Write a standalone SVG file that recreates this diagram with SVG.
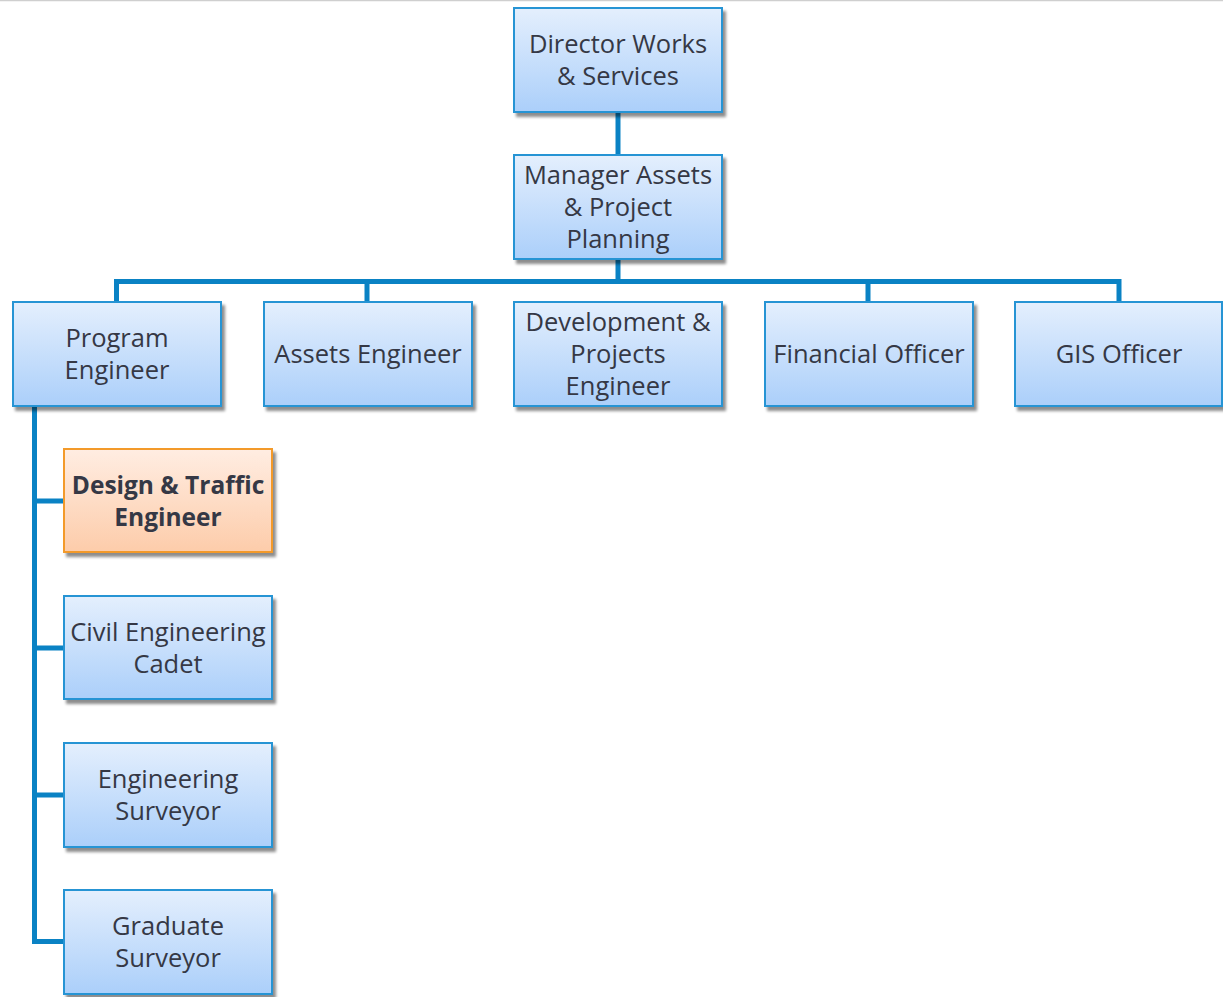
<svg xmlns="http://www.w3.org/2000/svg" width="1223" height="997" viewBox="0 0 1223 997">
<defs>
<linearGradient id="gb" x1="0" y1="0" x2="0" y2="1">
<stop offset="0" stop-color="#E4EFFD"/>
<stop offset="1" stop-color="#ABCFFA"/>
</linearGradient>
<linearGradient id="go" x1="0" y1="0" x2="0" y2="1">
<stop offset="0" stop-color="#FFEDE2"/>
<stop offset="1" stop-color="#FDCCAA"/>
</linearGradient>
<filter id="sh" x="-10%" y="-10%" width="130%" height="130%">
<feGaussianBlur in="SourceAlpha" stdDeviation="1.5"/>
<feOffset dx="3" dy="4" result="b"/>
<feComponentTransfer><feFuncA type="linear" slope="0.45"/></feComponentTransfer>
<feMerge><feMergeNode/><feMergeNode in="SourceGraphic"/></feMerge>
</filter>
</defs>
<style>
.n{fill:url(#gb);stroke:#2894D4;stroke-width:2;filter:url(#sh)}
.o{fill:url(#go);stroke:#F39A2A;stroke-width:2;filter:url(#sh)}
.t{font-family:"Open Sans","Noto Sans","Liberation Sans",sans-serif;font-size:25.5px;fill:#353845;text-anchor:middle}
.b{font-weight:bold;font-size:24.5px}
.c{stroke:#0A82C4;stroke-width:5;fill:none}
</style>
<rect width="1223" height="997" fill="#fff"/>
<line x1="0" y1="0.5" x2="1223" y2="0.5" stroke="#CFCFCF" stroke-width="1.5"/>
<g id="connectors">
<path class="c" d="M618 112V155"/>
<path class="c" d="M618 259V281.5M116.5 302V281.5H1119V302M367 281.5V302M868 281.5V302"/>
<path class="c" d="M34.5 406V941.5H64M34.5 501H64M34.5 648H64M34.5 795H64"/>
</g>
<g id="director"><rect class="n" x="514" y="8" width="208" height="104"/><text class="t" x="618" y="53">Director Works</text><text class="t" x="618" y="85">&amp; Services</text></g>
<g id="manager"><rect class="n" x="514" y="155" width="208" height="104"/><text class="t" x="618" y="184">Manager Assets</text><text class="t" x="618" y="216">&amp; Project</text><text class="t" x="618" y="248">Planning</text></g>
<g id="program"><rect class="n" x="13" y="302" width="208" height="104"/><text class="t" x="117" y="347">Program</text><text class="t" x="117" y="379">Engineer</text></g>
<g id="assets"><rect class="n" x="264" y="302" width="208" height="104"/><text class="t" x="368" y="363">Assets Engineer</text></g>
<g id="development"><rect class="n" x="514" y="302" width="208" height="104"/><text class="t" x="618" y="331">Development &amp;</text><text class="t" x="618" y="363">Projects</text><text class="t" x="618" y="395">Engineer</text></g>
<g id="financial"><rect class="n" x="765" y="302" width="208" height="104"/><text class="t" x="869" y="363">Financial Officer</text></g>
<g id="gis"><rect class="n" x="1015" y="302" width="207" height="104"/><text class="t" x="1119" y="363">GIS Officer</text></g>
<g id="design"><rect class="o" x="64" y="449" width="208" height="103"/><text class="t b" x="168" y="494">Design &amp; Traffic</text><text class="t b" x="168" y="526">Engineer</text></g>
<g id="civil"><rect class="n" x="64" y="596" width="208" height="103"/><text class="t" x="168" y="641">Civil Engineering</text><text class="t" x="168" y="673">Cadet</text></g>
<g id="surveyor"><rect class="n" x="64" y="743" width="208" height="104"/><text class="t" x="168" y="788">Engineering</text><text class="t" x="168" y="820">Surveyor</text></g>
<g id="graduate"><rect class="n" x="64" y="890" width="208" height="104"/><text class="t" x="168" y="935">Graduate</text><text class="t" x="168" y="967">Surveyor</text></g>
</svg>
